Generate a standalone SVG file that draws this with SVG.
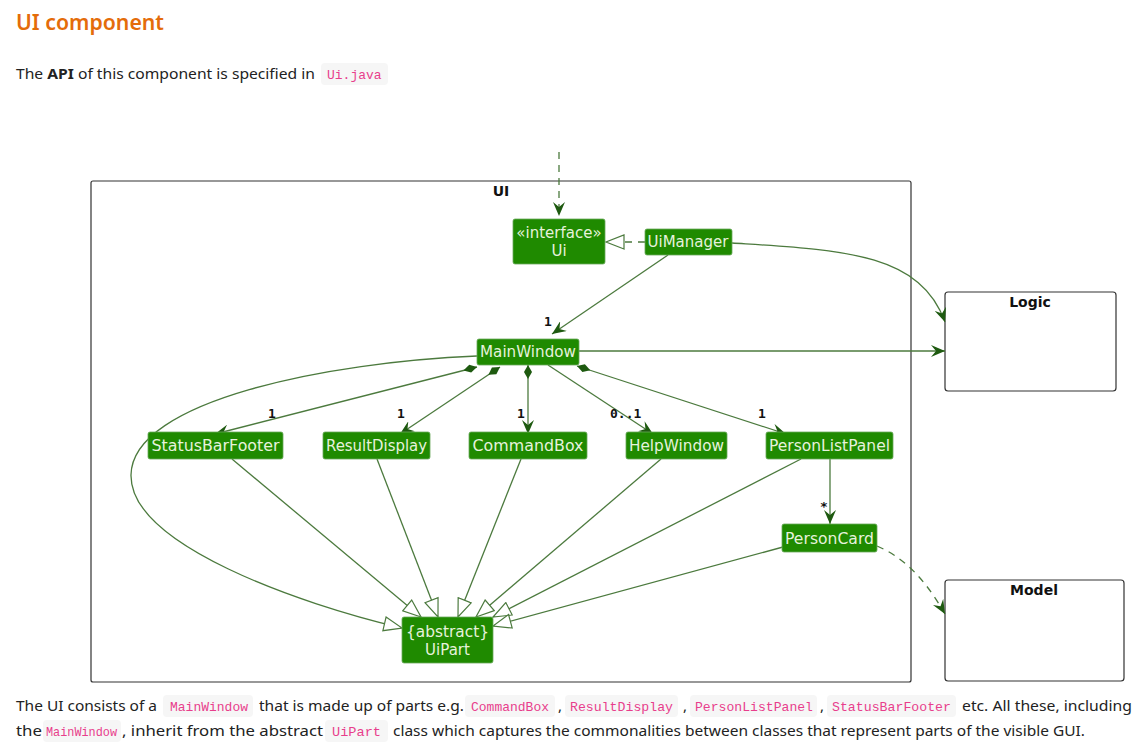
<svg xmlns="http://www.w3.org/2000/svg" width="1146" height="752" viewBox="0 0 1146 752">
<style>
.h1{font-family:"Noto Sans","Open Sans",sans-serif;font-size:22px;font-weight:600;fill:#e46c0a}
.p{font-family:"Noto Sans","Open Sans",sans-serif;font-size:15px;fill:#222}
.code{font-family:"Liberation Mono","DejaVu Sans Mono",monospace;font-size:13px;fill:#e83e8c}
.cbg{fill:#f6f6f6}
.node rect{fill:#1f8a00;stroke:#6aa85a;stroke-width:0.8}
.node text{font-family:"DejaVu Sans",Verdana,sans-serif;font-size:15px;fill:#e6f2dc;text-anchor:middle}
.pkg{fill:none;stroke:#333;stroke-width:1.2}
.pkgl{font-family:"DejaVu Sans",sans-serif;font-size:14px;font-weight:bold;fill:#111;text-anchor:middle}
.ln{fill:none;stroke:#4c7a3e;stroke-width:1.3}
.dash{stroke-dasharray:7,6}
.lbl{font-family:"DejaVu Sans Mono",monospace;font-size:13px;font-weight:bold;fill:#111}
</style>
<defs>
<marker id="vee" viewBox="0 0 14 12" refX="14" refY="6" markerWidth="14" markerHeight="12" markerUnits="userSpaceOnUse" orient="auto">
<path d="M0,0 L14,6 L0,12 L5,6 z" fill="#1e5a10"/>
</marker>
<marker id="tri" viewBox="0 0 20 16" refX="19" refY="8" markerWidth="20" markerHeight="16" markerUnits="userSpaceOnUse" orient="auto">
<path d="M1,1 L19,8 L1,15 z" fill="#fff" stroke="#4c7a3e" stroke-width="1.2"/>
</marker>
<marker id="dia" viewBox="0 0 14 9" refX="0" refY="4.5" markerWidth="14" markerHeight="9" markerUnits="userSpaceOnUse" orient="auto">
<path d="M0,4.5 L7,0.5 L14,4.5 L7,8.5 z" fill="#1e5a10"/>
</marker>
</defs>
<rect width="1146" height="752" fill="#fff"/>
<text class="h1" x="16" y="30" textLength="148" lengthAdjust="spacingAndGlyphs">UI component</text>
<text class="p" x="16" y="79" textLength="299" lengthAdjust="spacingAndGlyphs">The <tspan font-weight="bold">API</tspan> of this component is specified in</text>
<rect class="cbg" x="321" y="63" width="67" height="22" rx="4"/>
<text class="code" x="327" y="79">Ui.java</text>

<g id="package-UI">
<rect class="pkg" x="91" y="181" width="820" height="501" rx="2"/>
<text class="pkgl" x="501" y="196">UI</text>
</g>
<g id="package-Logic">
<rect class="pkg" x="945" y="292" width="171" height="99" rx="3"/>
<text class="pkgl" x="1030" y="307">Logic</text>
</g>
<g id="package-Model">
<rect class="pkg" x="945" y="580" width="179" height="101" rx="3"/>
<text class="pkgl" x="1034" y="595">Model</text>
</g>

<g id="connectors">
<path class="ln dash" d="M559,152 L559,216" marker-end="url(#vee)"/>
<path class="ln dash" d="M645,242 L606,242" marker-end="url(#tri)"/>
<path class="ln" d="M732,243 C840,250 920,252 945,322" marker-end="url(#vee)"/>
<path class="ln" d="M668,255 L552,334" marker-end="url(#vee)"/>
<path class="ln" d="M579,351 L945,351" marker-end="url(#vee)"/>
<path class="ln" d="M477,367 L215,434" marker-start="url(#dia)" marker-end="url(#vee)"/>
<path class="ln" d="M500,367 L400,434" marker-start="url(#dia)" marker-end="url(#vee)"/>
<path class="ln" d="M528,365 L528,434" marker-start="url(#dia)" marker-end="url(#vee)"/>
<path class="ln" d="M548,365 L653,434" marker-end="url(#vee)"/>
<path class="ln" d="M577,366 L786,434" marker-start="url(#dia)" marker-end="url(#vee)"/>
<path class="ln" d="M830,459 L830,524" marker-end="url(#vee)"/>
<path class="ln dash" d="M877,546 C910,560 930,588 945,614" marker-end="url(#vee)"/>
<path class="ln" d="M477,356 C330,362 132,400 131,475 C130,545 300,604 402,628" marker-end="url(#tri)"/>
<path class="ln" d="M232,459 L421,617" marker-end="url(#tri)"/>
<path class="ln" d="M377,459 L438,617" marker-end="url(#tri)"/>
<path class="ln" d="M521,459 L458,617" marker-end="url(#tri)"/>
<path class="ln" d="M661,459 L476,617" marker-end="url(#tri)"/>
<path class="ln" d="M801,459 L493,617" marker-end="url(#tri)"/>
<path class="ln" d="M783,547 L493,626" marker-end="url(#tri)"/>
<text class="lbl" x="544" y="326">1</text>
<text class="lbl" x="268" y="418">1</text>
<text class="lbl" x="397" y="418">1</text>
<text class="lbl" x="517" y="418">1</text>
<text class="lbl" x="610" y="418">0..1</text>
<text class="lbl" x="758" y="418">1</text>
<text class="lbl" x="820" y="511">*</text>
</g>

<g id="node-Ui" class="node">
<rect x="513" y="219" width="92" height="45" rx="2"/>
<text x="559" y="238">«interface»</text>
<text x="559" y="256">Ui</text>
</g>
<g id="node-UiManager" class="node">
<rect x="645" y="229" width="87" height="26" rx="2"/>
<text x="688" y="247" textLength="81" lengthAdjust="spacingAndGlyphs">UiManager</text>
</g>
<g id="node-MainWindow" class="node">
<rect x="477" y="339" width="102" height="26" rx="2"/>
<text x="528" y="357" textLength="96" lengthAdjust="spacingAndGlyphs">MainWindow</text>
</g>
<g id="node-StatusBarFooter" class="node">
<rect x="148" y="432" width="135" height="27" rx="2"/>
<text x="215.5" y="451" textLength="128" lengthAdjust="spacingAndGlyphs">StatusBarFooter</text>
</g>
<g id="node-ResultDisplay" class="node">
<rect x="323" y="432" width="107" height="27" rx="2"/>
<text x="376.5" y="451" textLength="101" lengthAdjust="spacingAndGlyphs">ResultDisplay</text>
</g>
<g id="node-CommandBox" class="node">
<rect x="469" y="432" width="118" height="27" rx="2"/>
<text x="528" y="451" textLength="111" lengthAdjust="spacingAndGlyphs">CommandBox</text>
</g>
<g id="node-HelpWindow" class="node">
<rect x="626" y="432" width="101" height="27" rx="2"/>
<text x="676.5" y="451" textLength="95" lengthAdjust="spacingAndGlyphs">HelpWindow</text>
</g>
<g id="node-PersonListPanel" class="node">
<rect x="766" y="432" width="127" height="27" rx="2"/>
<text x="829.5" y="451" textLength="121" lengthAdjust="spacingAndGlyphs">PersonListPanel</text>
</g>
<g id="node-PersonCard" class="node">
<rect x="782" y="524" width="95" height="28" rx="2"/>
<text x="829.5" y="544" textLength="89" lengthAdjust="spacingAndGlyphs">PersonCard</text>
</g>
<g id="node-UiPart" class="node">
<rect x="402" y="617" width="91" height="46" rx="2"/>
<text x="447.5" y="637" textLength="83" lengthAdjust="spacingAndGlyphs">{abstract}</text>
<text x="447.5" y="655">UiPart</text>
</g>

<g id="caption">
<rect class="cbg" x="163" y="695" width="90" height="22" rx="4"/>
<rect class="cbg" x="465" y="695" width="90" height="22" rx="4"/>
<rect class="cbg" x="565" y="695" width="113" height="22" rx="4"/>
<rect class="cbg" x="690" y="695" width="127" height="22" rx="4"/>
<rect class="cbg" x="827" y="695" width="129" height="22" rx="4"/>
<rect class="cbg" x="43" y="720" width="78" height="22" rx="4"/>
<rect class="cbg" x="325" y="720" width="63" height="22" rx="4"/>
<text class="p" x="16" y="711" textLength="141" lengthAdjust="spacingAndGlyphs">The UI consists of a</text>
<text class="code" x="170" y="711" textLength="78" lengthAdjust="spacingAndGlyphs">MainWindow</text>
<text class="p" x="259" y="711" textLength="205" lengthAdjust="spacingAndGlyphs">that is made up of parts e.g.</text>
<text class="code" x="471" y="711" textLength="78" lengthAdjust="spacingAndGlyphs">CommandBox</text>
<text class="p" x="558" y="711">,</text>
<text class="code" x="570" y="711" textLength="103" lengthAdjust="spacingAndGlyphs">ResultDisplay</text>
<text class="p" x="683" y="711">,</text>
<text class="code" x="695" y="711" textLength="118" lengthAdjust="spacingAndGlyphs">PersonListPanel</text>
<text class="p" x="820" y="711">,</text>
<text class="code" x="832" y="711" textLength="119" lengthAdjust="spacingAndGlyphs">StatusBarFooter</text>
<text class="p" x="962" y="711" textLength="170" lengthAdjust="spacingAndGlyphs">etc. All these, including</text>
<text class="p" x="16" y="736" textLength="26" lengthAdjust="spacingAndGlyphs">the</text>
<text class="code" x="46" y="736" textLength="71" lengthAdjust="spacingAndGlyphs">MainWindow</text>
<text class="p" x="122" y="736" textLength="201" lengthAdjust="spacingAndGlyphs">, inherit from the abstract</text>
<text class="code" x="332" y="736" textLength="49" lengthAdjust="spacingAndGlyphs">UiPart</text>
<text class="p" x="393" y="736" textLength="692" lengthAdjust="spacingAndGlyphs">class which captures the commonalities between classes that represent parts of the visible GUI.</text>
</g>
</svg>
